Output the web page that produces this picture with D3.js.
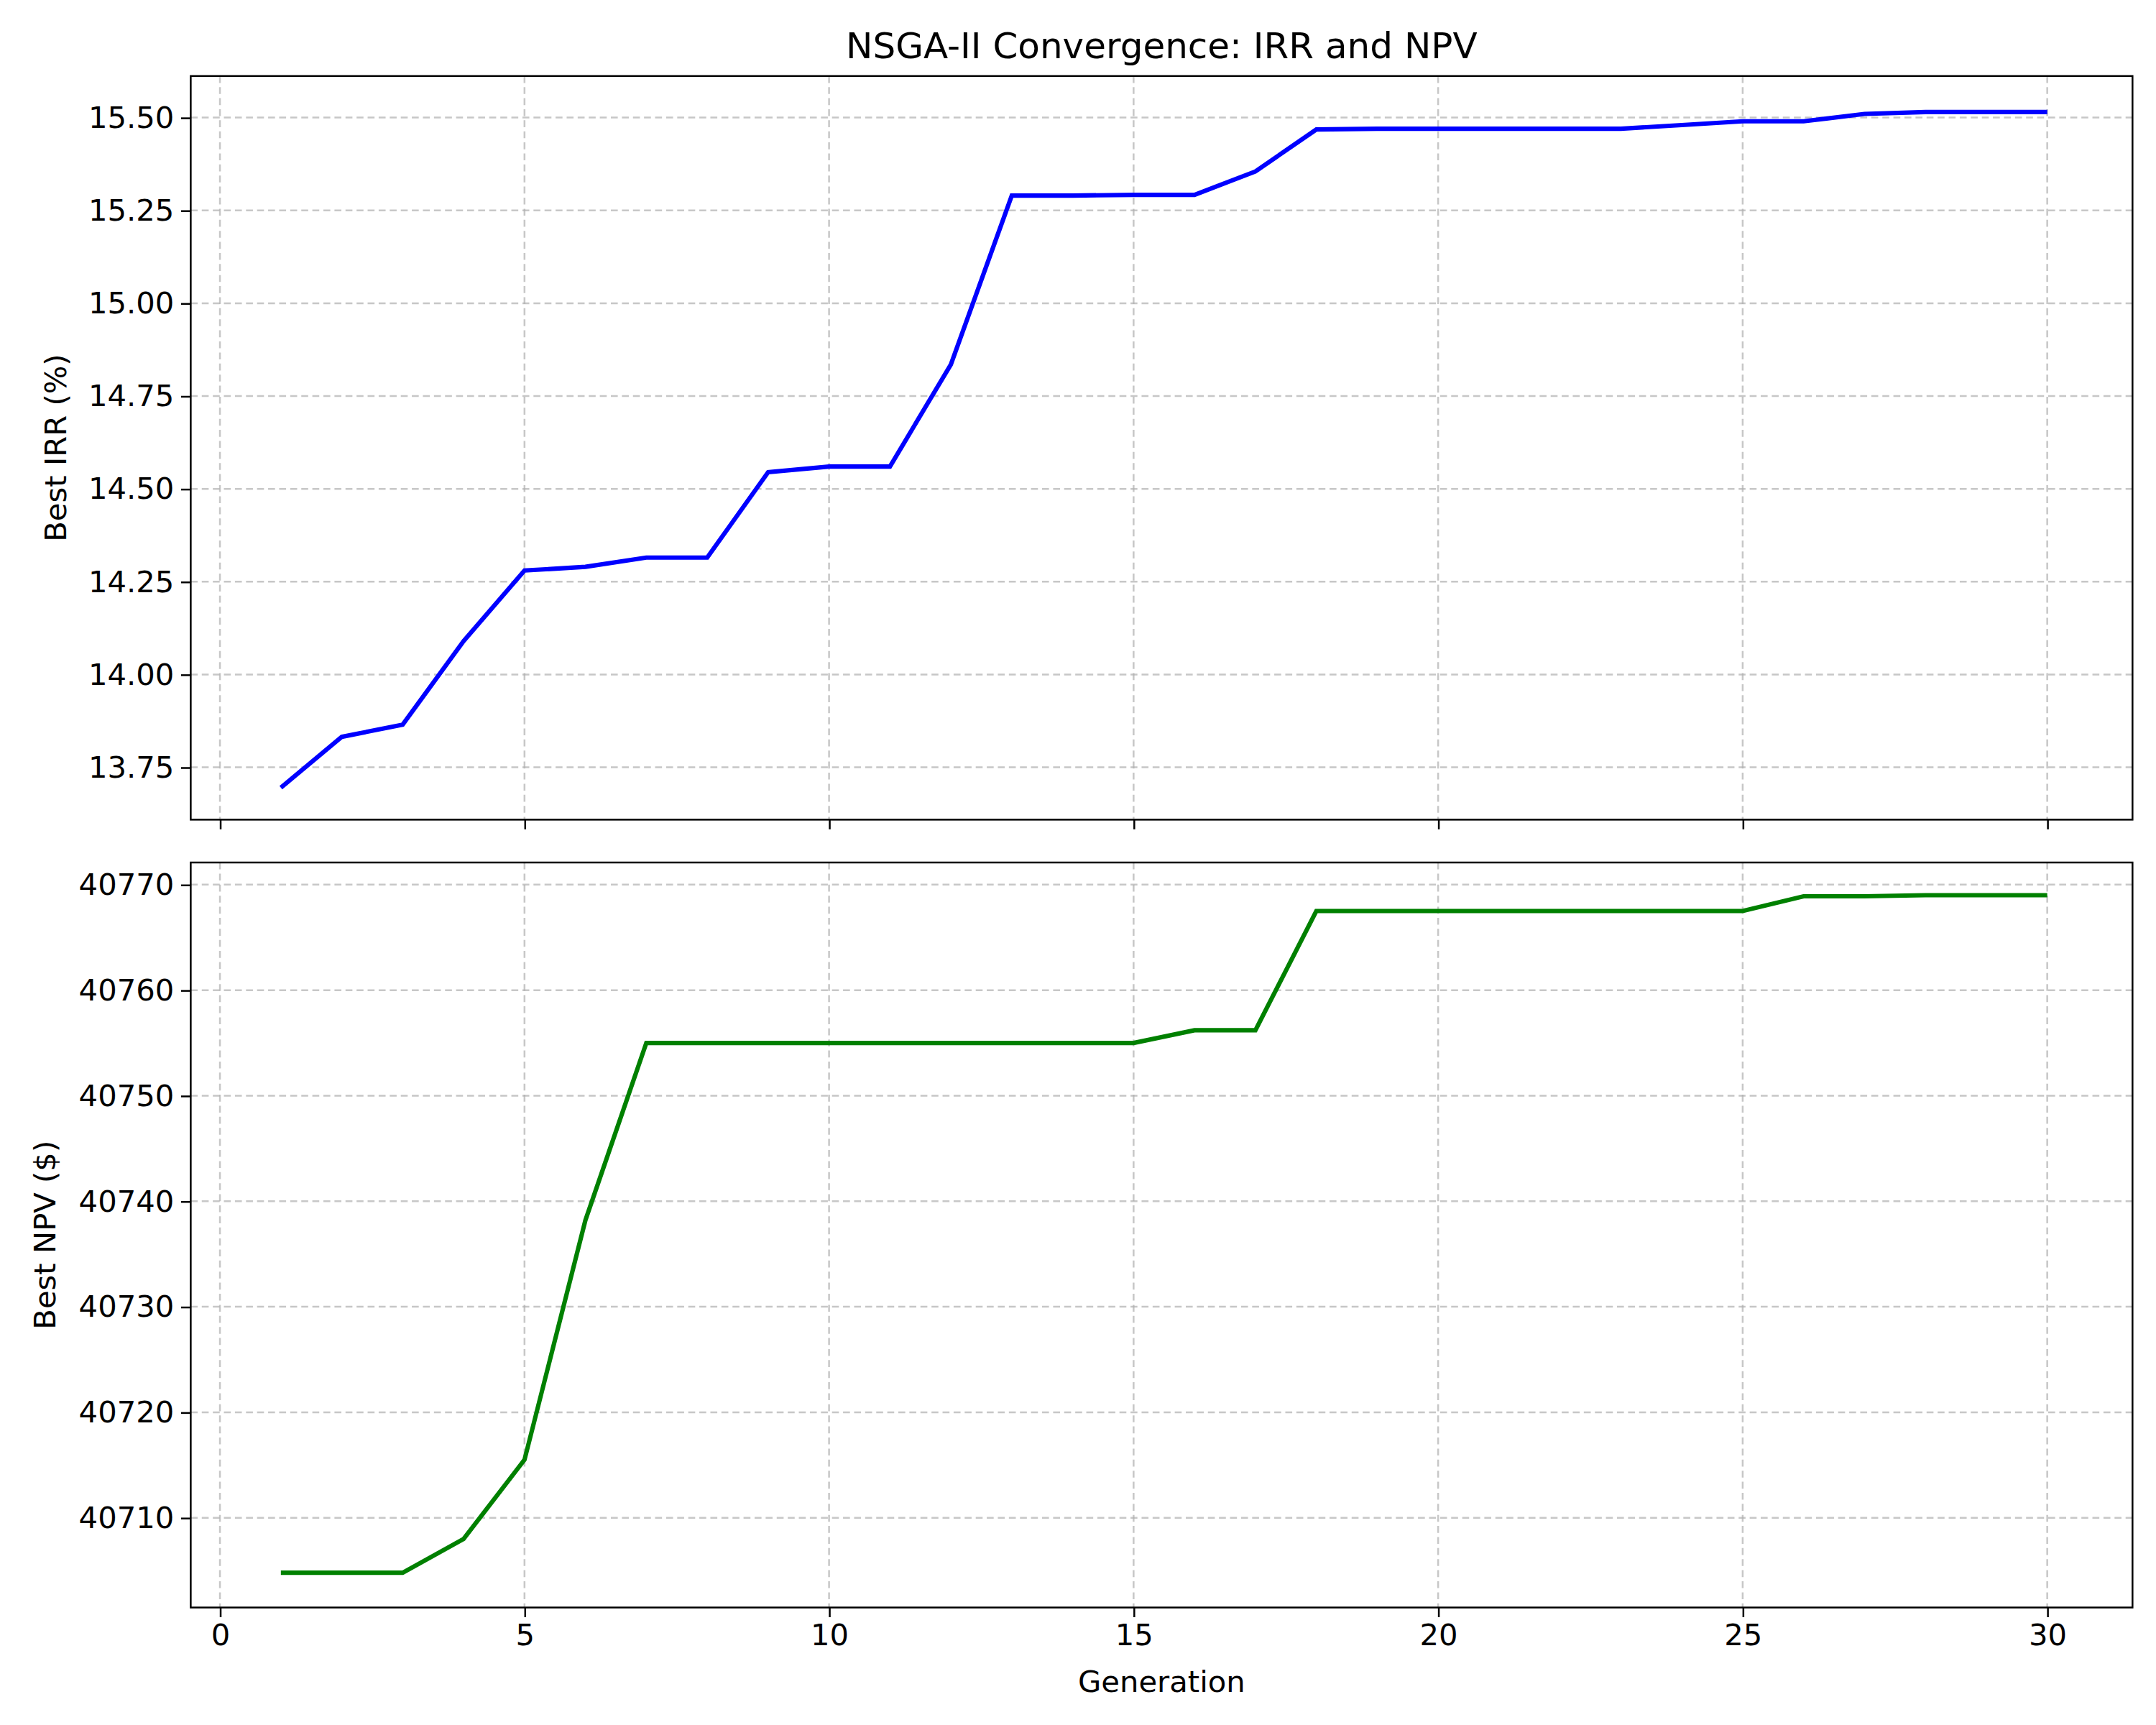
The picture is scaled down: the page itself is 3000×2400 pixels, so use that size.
<!DOCTYPE html>
<html><head><meta charset="utf-8">
<script src="https://cdn.jsdelivr.net/npm/d3@7"></script>
<style>body{margin:0;background:#fff} text{font-family:"DejaVu Sans";fill:#000}</style>
</head><body><div id="chart"></div>
<script>
let generations = d3.range(1, 31);
let bestIRR = [13.695, 13.832, 13.865, 14.09, 14.28, 14.29, 14.315, 14.315, 14.545, 14.56,
  14.56, 14.835, 15.29, 15.29, 15.292, 15.292, 15.355, 15.468, 15.47, 15.47,
  15.47, 15.47, 15.47, 15.48, 15.49, 15.49, 15.51, 15.515, 15.515, 15.515];
let bestNPV = [40704.8, 40704.8, 40704.8, 40708, 40715.5, 40738.2, 40755, 40755, 40755, 40755,
  40755, 40755, 40755, 40755, 40755, 40756.2, 40756.2, 40767.5, 40767.5, 40767.5,
  40767.5, 40767.5, 40767.5, 40767.5, 40767.5, 40768.9, 40768.9, 40769, 40769, 40769];
let xTicks = [0, 5, 10, 15, 20, 25, 30];
let irrTicks = [13.75, 14.0, 14.25, 14.5, 14.75, 15.0, 15.25, 15.5];
let npvTicks = [40710, 40720, 40730, 40740, 40750, 40760, 40770];

let W = 1560, H = 1248, fs = 21.7;
let left = 138, right = 1543;
let svg = d3.select("#chart").append("svg")
  .attr("width", 3000).attr("height", 2400)
  .attr("viewBox", "0 0 " + W + " " + H);

let x = d3.scaleLinear().domain([-0.48, 31.4]).range([left, right]);

svg.append("text").attr("x", (left + right) / 2).attr("y", 42)
  .attr("text-anchor", "middle").style("font-size", "26px")
  .text("NSGA-II Convergence: IRR and NPV");

function panel(top, bottom, domain, ticks, fmt, values, color, label, showXLabels) {
  let y = d3.scaleLinear().domain(domain).range([bottom, top]);
  let g = svg.append("g");
  // grid
  g.selectAll(".gx").data(xTicks).enter().append("line")
    .attr("x1", d => x(d)).attr("x2", d => x(d)).attr("y1", top).attr("y2", bottom)
    .attr("stroke", "#b0b0b0").attr("stroke-width", 1.3).attr("stroke-dasharray", "5,3").attr("opacity", 0.7);
  g.selectAll(".gy").data(ticks).enter().append("line")
    .attr("x1", left).attr("x2", right).attr("y1", d => y(d)).attr("y2", d => y(d))
    .attr("stroke", "#b0b0b0").attr("stroke-width", 1.3).attr("stroke-dasharray", "5,3").attr("opacity", 0.7);
  // line
  g.append("path").datum(generations)
    .attr("fill", "none").attr("stroke", color).attr("stroke-width", 3.2)
    .attr("d", d3.line().x(d => x(d)).y((d, i) => y(values[i])));
  // axes
  let ya = g.append("g").attr("transform", "translate(" + left + ",0)")
    .call(d3.axisLeft(y).tickValues(ticks).tickFormat(fmt).tickSize(7).tickPadding(5));
  let xa = g.append("g").attr("transform", "translate(0," + bottom + ")")
    .call(d3.axisBottom(x).tickValues(xTicks).tickSize(7).tickPadding(5)
      .tickFormat(showXLabels ? d3.format("d") : ""));
  [ya, xa].forEach(a => {
    a.select(".domain").remove();
    a.selectAll("line").attr("stroke", "#000").attr("stroke-width", 1.3);
    a.selectAll("text").style("font-size", fs + "px").style("font-family", "DejaVu Sans");
  });
  g.append("rect").attr("x", left).attr("y", top).attr("width", right - left).attr("height", bottom - top)
    .attr("fill", "none").attr("stroke", "#000").attr("stroke-width", 1.3);
  g.append("text").attr("transform", "translate(" + (showXLabels ? 40 : 48) + "," + ((top + bottom) / 2) + ") rotate(-90)")
    .attr("text-anchor", "middle").style("font-size", fs + "px").text(label);
}

panel(55, 593, [13.609, 15.612], irrTicks, d3.format(".2f"), bestIRR, "#0000ff", "Best IRR (%)", false);
panel(624, 1163, [40701.5, 40772.1], npvTicks, d3.format("d"), bestNPV, "#008000", "Best NPV ($)", true);

svg.append("text").attr("x", (left + right) / 2).attr("y", 1224)
  .attr("text-anchor", "middle").style("font-size", fs + "px").text("Generation");
</script></body></html>
